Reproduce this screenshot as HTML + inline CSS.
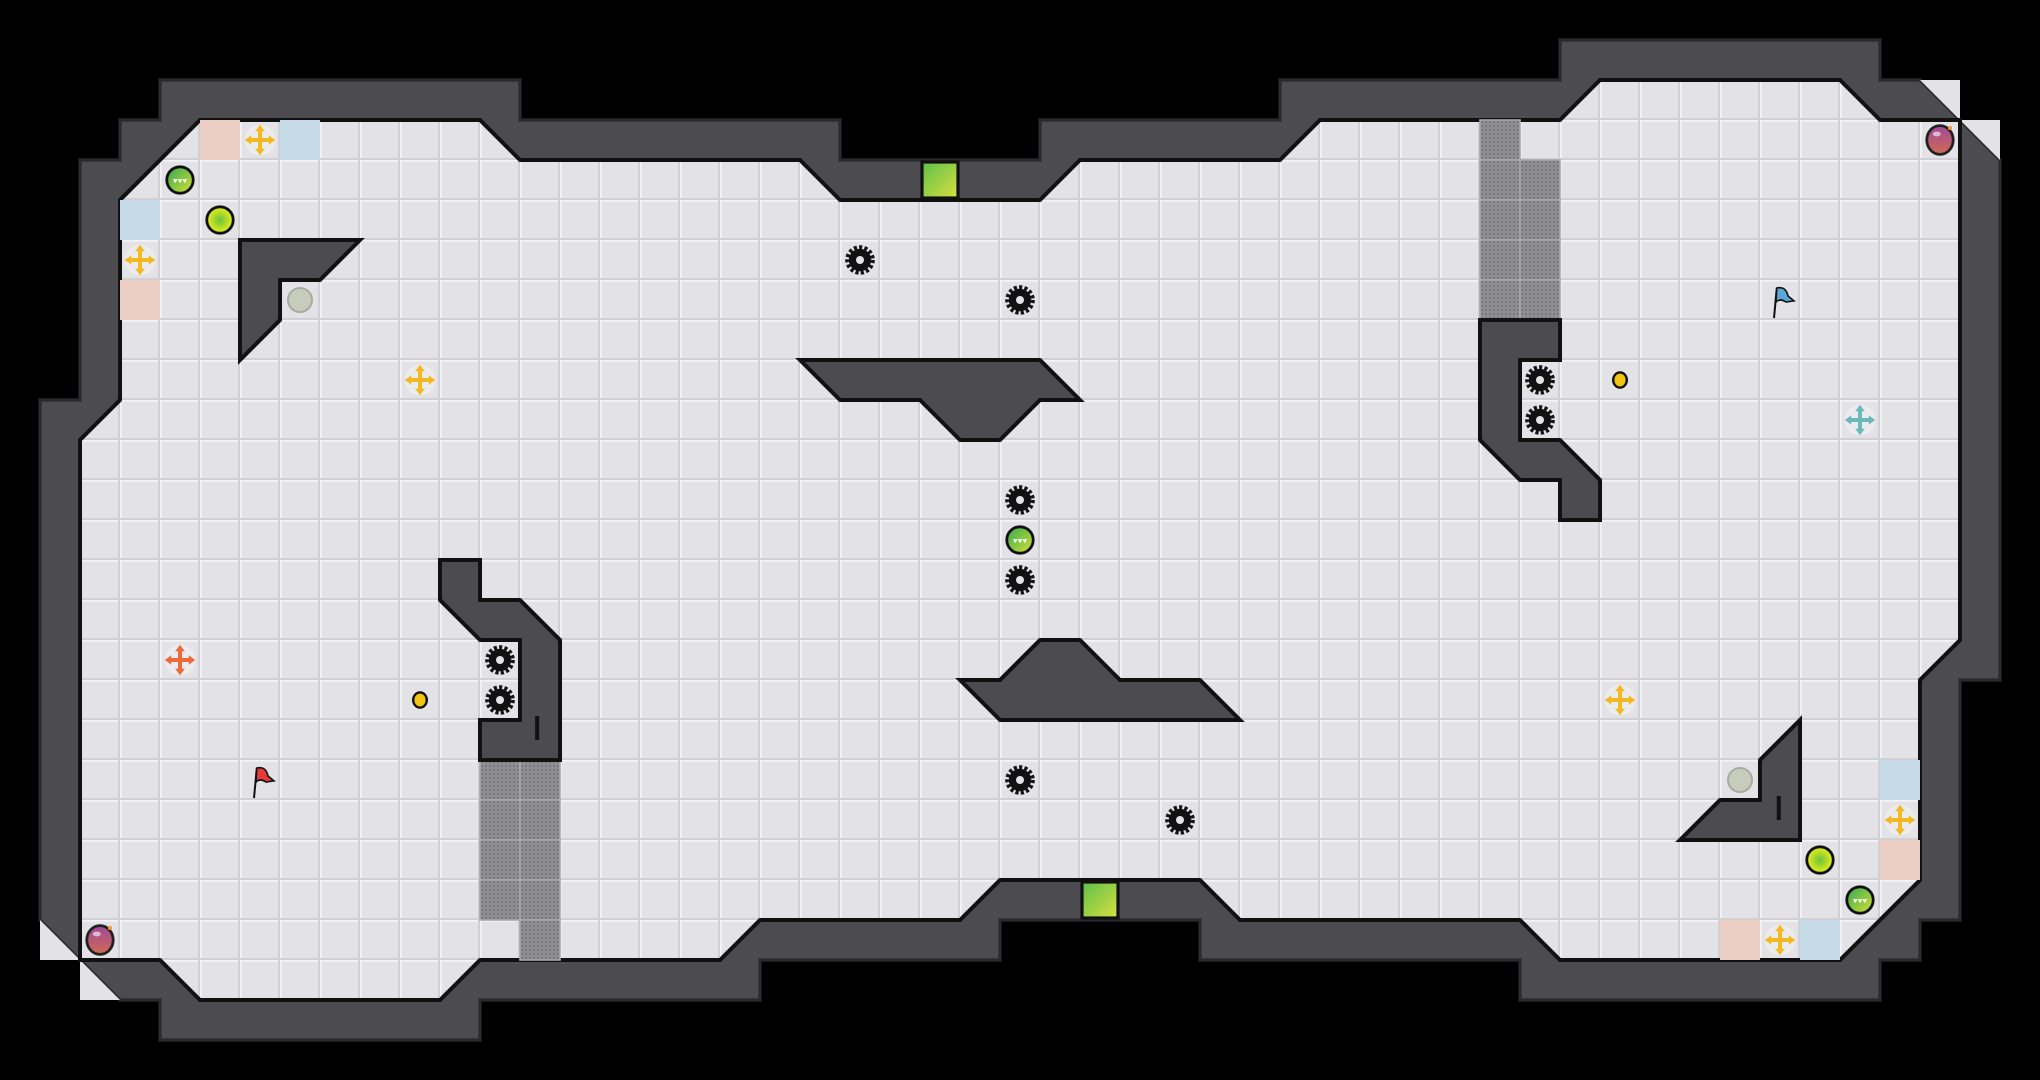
<!DOCTYPE html>
<html><head><meta charset="utf-8"><style>html,body{margin:0;padding:0;background:#000;width:2040px;height:1080px;overflow:hidden}svg{display:block}</style></head>
<body>
<svg width="2040" height="1080" viewBox="0 0 51 27" preserveAspectRatio="none" xmlns="http://www.w3.org/2000/svg">
<defs>
<pattern id="tile" x="0" y="0" width="1" height="1" patternUnits="userSpaceOnUse">
<rect width="1" height="1" fill="#e3e3e7"/>
<rect x="0" y="0" width="1" height="0.04" fill="#f4f4f6"/>
<rect x="0" y="0" width="0.04" height="1" fill="#f4f4f6"/>
<rect x="0" y="0.95" width="1" height="0.05" fill="#cfcfd4"/>
<rect x="0.95" y="0" width="0.05" height="1" fill="#cfcfd4"/>
</pattern>
<pattern id="grate" x="0" y="0" width="0.1" height="0.1" patternUnits="userSpaceOnUse">
<rect width="0.1" height="0.1" fill="#8e8e92"/>
<rect x="0.03" y="0.03" width="0.04" height="0.04" fill="#6f6f73"/>
</pattern>
<radialGradient id="yg" cx="0.5" cy="0.5" r="0.5"><stop offset="0" stop-color="#6cc23a"/><stop offset="1" stop-color="#e8f01a"/></radialGradient>
<linearGradient id="gs" x1="0" y1="0" x2="1" y2="1"><stop offset="0" stop-color="#2faa55"/><stop offset="1" stop-color="#d8e030"/></linearGradient>
<linearGradient id="pu" x1="0" y1="0" x2="0" y2="1"><stop offset="0" stop-color="#a04a9a"/><stop offset="1" stop-color="#d06a50"/></linearGradient>
<linearGradient id="ex" x1="0" y1="0" x2="1" y2="1"><stop offset="0" stop-color="#5cc04a"/><stop offset="1" stop-color="#d8e040"/></linearGradient>
<g id="gear">
<circle r="0.28" fill="#111"/>
<circle r="0.31" fill="none" stroke="#111" stroke-width="0.12" stroke-dasharray="0.075 0.055"/>
<circle r="0.1" fill="#e3e3e7"/>
</g>
<g id="move">
<circle r="0.38" fill="#ececef"/>
<path d="M-0.05,-0.25 L0.05,-0.25 L0.05,-0.05 L0.25,-0.05 L0.25,0.05 L0.05,0.05 L0.05,0.25 L-0.05,0.25 L-0.05,0.05 L-0.25,0.05 L-0.25,-0.05 L-0.05,-0.05Z"/>
<path d="M0,-0.38 L0.12,-0.22 L-0.12,-0.22Z M0,0.38 L0.12,0.22 L-0.12,0.22Z M-0.38,0 L-0.22,0.12 L-0.22,-0.12Z M0.38,0 L0.22,0.12 L0.22,-0.12Z"/>
</g>
<g id="gball"><circle r="0.33" fill="url(#gs)" stroke="#111" stroke-width="0.07"/><path d="M-0.18,-0.02 L-0.12,0.08 L-0.06,-0.02 L0,0.08 L0.06,-0.02 L0.12,0.08 L0.18,-0.02Z" fill="#fff"/></g>
<g id="yball"><circle r="0.33" fill="url(#yg)" stroke="#111" stroke-width="0.07"/></g>
<g id="pball"><circle r="0.3" fill="#c8ccbc" stroke="#a9ab9e" stroke-width="0.05"/></g>
<g id="coin"><ellipse rx="0.17" ry="0.19" fill="#f2c40f" stroke="#111" stroke-width="0.06"/></g>
<g id="purp"><ellipse rx="0.33" ry="0.36" fill="url(#pu)" stroke="#222" stroke-width="0.07"/><ellipse cx="-0.08" cy="-0.15" rx="0.1" ry="0.06" fill="#fff" opacity="0.6"/><circle cx="0.25" cy="-0.3" r="0.05" fill="#f39a2a"/></g>
</defs>

<polygon points="4,2 13,2 13,3 21,3 21,4 26,4 26,3 32,3 32,2 39,2 39,1 47,1 47,2 48,2 50,4 50,17 49,17 49,23 48,23 48,24 47,24 47,25 38,25 38,24 30,24 30,23 25,23 25,24 19,24 19,25 12,25 12,26 4,26 4,25 3,25 1,23 1,10 2,10 2,4 3,4 3,3 4,3" fill="#4b4b50" stroke="#2a2a2e" stroke-width="0.08"/>

<polygon points="48,2 49,2 49,3" fill="#e3e3e7"/>
<polygon points="49,3 50,3 50,4" fill="#e3e3e7"/>
<polygon points="1,23 1,24 2,24" fill="#e3e3e7"/>
<polygon points="2,24 2,25 3,25" fill="#e3e3e7"/>

<polygon points="5,3 12,3 13,4 20,4 21,5 26,5 27,4 32,4 33,3 39,3 40,2 46,2 47,3 49,3 49,16 48,17 48,22 46,24 39,24 38,23 31,23 30,22 25,22 24,23 19,23 18,24 12,24 11,25 5,25 4,24 2,24 2,11 3,10 3,5" fill="url(#tile)" stroke="#111" stroke-width="0.1" stroke-linejoin="miter"/>

<g>
<rect x="5" y="3" width="1" height="1" fill="#eccfc4"/>
<rect x="7" y="3" width="1" height="1" fill="#c6d9e6"/>
<rect x="3" y="5" width="1" height="1" fill="#c6d9e6"/>
<rect x="3" y="7" width="1" height="1" fill="#eccfc4"/>
<rect x="43" y="23" width="1" height="1" fill="#eccfc4"/>
<rect x="45" y="23" width="1" height="1" fill="#c6d9e6"/>
<rect x="47" y="19" width="1" height="1" fill="#c6d9e6"/>
<rect x="47" y="21" width="1" height="1" fill="#eccfc4"/>
</g>

<g fill="url(#grate)" stroke="#a8a8ac" stroke-width="0.04">
<rect x="37" y="3" width="1" height="1"/><rect x="37" y="4" width="1" height="1"/><rect x="37" y="5" width="1" height="1"/><rect x="37" y="6" width="1" height="1"/><rect x="37" y="7" width="1" height="1"/>
<rect x="38" y="4" width="1" height="1"/><rect x="38" y="5" width="1" height="1"/><rect x="38" y="6" width="1" height="1"/><rect x="38" y="7" width="1" height="1"/>
<rect x="12" y="19" width="1" height="1"/><rect x="12" y="20" width="1" height="1"/><rect x="12" y="21" width="1" height="1"/><rect x="12" y="22" width="1" height="1"/>
<rect x="13" y="19" width="1" height="1"/><rect x="13" y="20" width="1" height="1"/><rect x="13" y="21" width="1" height="1"/><rect x="13" y="22" width="1" height="1"/><rect x="13" y="23" width="1" height="1"/>
</g>

<g fill="#4b4b50" stroke="#111" stroke-width="0.1">
<polygon points="6,6 9,6 8,7 7,7 7,8 6,9"/>
<polygon points="20,9 26,9 27,10 26,10 25,11 24,11 23,10 21,10"/>
<polygon points="37,8 39,8 39,9 38,9 38,11 39,11 40,12 40,13 39,13 39,12 38,12 37,11"/>
<polygon points="11,14 12,14 12,15 13,15 14,16 14,19 12,19 12,18 13,18 13,16 12,16 11,15"/>
<polygon points="24,17 25,17 26,16 27,16 28,17 30,17 31,18 25,18"/>
<polygon points="45,18 45,21 42,21 43,20 44,20 44,19"/>
</g>
<rect x="13.38" y="17.9" width="0.1" height="0.6" fill="#111"/>
<rect x="44.42" y="19.9" width="0.1" height="0.6" fill="#111"/>

<rect x="23.05" y="4.05" width="0.9" height="0.9" fill="url(#ex)" stroke="#111" stroke-width="0.08"/>
<rect x="27.05" y="22.05" width="0.9" height="0.9" fill="url(#ex)" stroke="#111" stroke-width="0.08"/>

<g fill="#f5b820">
<use href="#move" x="6.5" y="3.5"/><use href="#move" x="3.5" y="6.5"/><use href="#move" x="10.5" y="9.5"/>
<use href="#move" x="40.5" y="17.5"/><use href="#move" x="47.5" y="20.5"/><use href="#move" x="44.5" y="23.5"/>
</g>
<g fill="#ef6a3a"><use href="#move" x="4.5" y="16.5"/></g>
<g fill="#6ab8b8"><use href="#move" x="46.5" y="10.5"/></g>

<use href="#gear" x="21.5" y="6.5"/><use href="#gear" x="25.5" y="7.5"/><use href="#gear" x="25.5" y="12.5"/><use href="#gear" x="25.5" y="14.5"/>
<use href="#gear" x="12.5" y="16.5"/><use href="#gear" x="12.5" y="17.5"/><use href="#gear" x="38.5" y="9.5"/><use href="#gear" x="38.5" y="10.5"/>
<use href="#gear" x="25.5" y="19.5"/><use href="#gear" x="29.5" y="20.5"/>

<use href="#gball" x="4.5" y="4.5"/><use href="#gball" x="25.5" y="13.5"/><use href="#gball" x="46.5" y="22.5"/>
<use href="#yball" x="5.5" y="5.5"/><use href="#yball" x="45.5" y="21.5"/>
<use href="#pball" x="7.5" y="7.5"/><use href="#pball" x="43.5" y="19.5"/>
<use href="#coin" x="10.5" y="17.5"/><use href="#coin" x="40.5" y="9.5"/>
<use href="#purp" x="48.5" y="3.5"/><use href="#purp" x="2.5" y="23.5"/>

<g transform="translate(6.5,19.5)">
<line x1="-0.15" y1="0.45" x2="-0.08" y2="-0.3" stroke="#111" stroke-width="0.05"/>
<path d="M-0.08,-0.3 Q0.15,-0.35 0.2,-0.1 L0.35,0.02 L0.15,0.05 Q0.0,-0.05 -0.1,0.05Z" fill="#e53a3a" stroke="#111" stroke-width="0.04"/>
</g>
<g transform="translate(44.5,7.5)">
<line x1="-0.15" y1="0.45" x2="-0.08" y2="-0.3" stroke="#111" stroke-width="0.05"/>
<path d="M-0.08,-0.3 Q0.15,-0.35 0.2,-0.1 L0.35,0.02 L0.15,0.05 Q0.0,-0.05 -0.1,0.05Z" fill="#5aa8d8" stroke="#111" stroke-width="0.04"/>
</g>
</svg>
</body></html>
